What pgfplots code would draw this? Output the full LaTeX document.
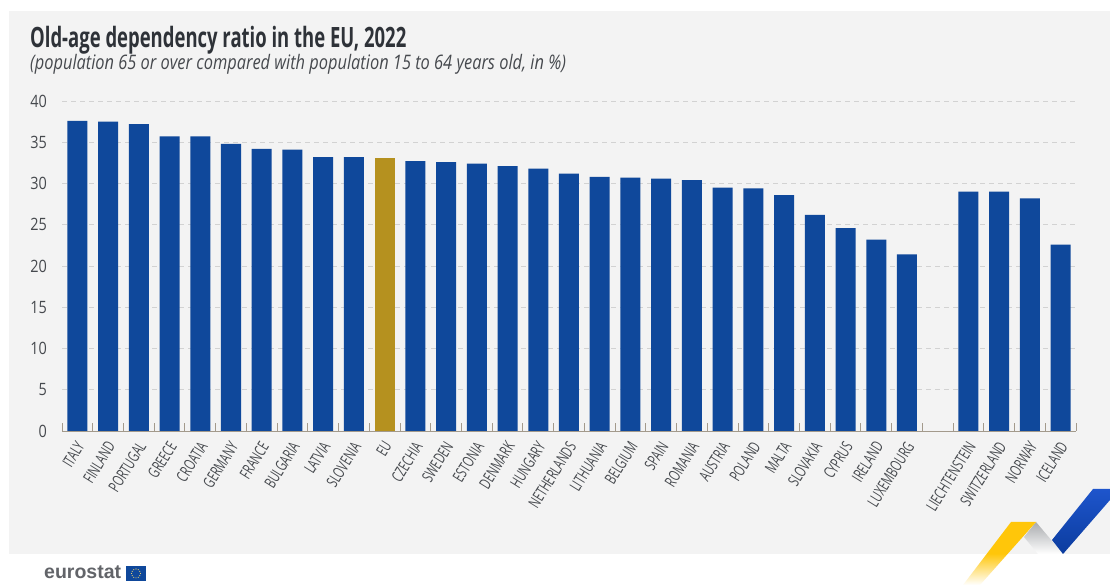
\documentclass[border=0pt]{standalone}
\usepackage{fontspec}
\usepackage{pgfplots}
\pgfplotsset{compat=1.18}
\usetikzlibrary{calc}
\setmainfont[FakeStretch=0.78]{Open Sans}
\newfontfamily\titlefont[FakeStretch=0.66]{Open Sans}
\newfontfamily\subtitlefont[FakeStretch=0.82]{Open Sans}
\newfontfamily\catfont[FakeStretch=0.67]{Open Sans}
\newfontfamily\numfont[FakeStretch=0.85]{Open Sans}
\newfontfamily\logofont{Liberation Sans}
\definecolor{panel}{HTML}{F3F3F3}
\definecolor{barblue}{HTML}{0F489B}
\definecolor{bargold}{HTML}{B5911F}
\definecolor{inktitle}{HTML}{2E3238}
\definecolor{inktext}{HTML}{46494E}
\definecolor{axisbrown}{HTML}{A39A8C}
\definecolor{gridgrey}{HTML}{D2D2D2}
\definecolor{ribbonyellow}{HTML}{FFC60A}
\definecolor{ribbongrey}{HTML}{A9ABAE}
\definecolor{ribbonblueA}{HTML}{0B3C9E}
\definecolor{ribbonblueB}{HTML}{1E55CC}
\begin{document}
\begin{tikzpicture}[x=1pt,y=1pt]
\useasboundingbox (0,0) rectangle (1110,585);
% panel behind the chart
\fill[panel] (9,31) rectangle (1110,574);
% headline
\node[anchor=base west,inner sep=0,text=inktitle,font=\fontsize{28}{30}\titlefont\bfseries] at (30,537) {Old-age dependency ratio in the EU, 2022};
\node[anchor=base west,inner sep=0,text=inktext,font=\fontsize{20}{22}\subtitlefont\itshape] at (30,515.5) {(population 65 or over compared with population 15 to 64 years old, in \%)};
\begin{axis}[
  at={(62pt,154pt)}, anchor=south west,
  scale only axis, width=1014pt, height=330pt,
  xmin=-0.5, xmax=32.5, ymin=0, ymax=40,
  ybar, bar width=20pt, bar shift=0pt,
  axis lines=left,
  axis line style={-,draw=axisbrown,line width=0.9pt},
  y axis line style={draw=none},
  ytick={0,5,...,40},
  ymajorgrids,
  grid style={gridgrey,dash pattern=on 5pt off 4pt,line width=0.7pt},
  major y tick style={draw=none},
  major x tick style={draw=none},
  xtick={0,...,32},
  minor xtick={-0.5,0.5,...,32.5},
  minor x tick style={draw=axisbrown,line width=0.9pt},
  minor tick length=8pt,
  tick align=inside,
  xticklabels={ITALY,FINLAND,PORTUGAL,GREECE,CROATIA,GERMANY,FRANCE,BULGARIA,LATVIA,SLOVENIA,EU,CZECHIA,SWEDEN,ESTONIA,DENMARK,HUNGARY,NETHERLANDS,LITHUANIA,BELGIUM,SPAIN,ROMANIA,AUSTRIA,POLAND,MALTA,SLOVAKIA,CYPRUS,IRELAND,LUXEMBOURG,,LIECHTENSTEIN,SWITZERLAND,NORWAY,ICELAND},
  x tick label style={xshift=-2pt,yshift=-9pt,rotate=58,anchor=north east,inner sep=0pt,text=inktext,font=\fontsize{16}{18}\catfont},
  y tick label style={text=inktext,font=\fontsize{17}{19}\numfont,inner sep=0pt,xshift=-15pt},
  /pgf/number format/assume math mode=true,
  clip=false,
]
\addplot[fill=barblue,draw=none] table[x=idx,y=val] {
idx val
0 37.6
1 37.5
2 37.2
3 35.7
4 35.7
5 34.8
6 34.2
7 34.1
8 33.2
9 33.2
11 32.7
12 32.6
13 32.4
14 32.1
15 31.8
16 31.2
17 30.8
18 30.7
19 30.6
20 30.4
21 29.5
22 29.4
23 28.6
24 26.2
25 24.6
26 23.2
27 21.4
29 29.0
30 29.0
31 28.2
32 22.6
};
\addplot[fill=bargold,draw=none] coordinates {(10,33.1)};
\end{axis}
% ribbon device in the lower right corner
\begin{scope}
\clip (0,0) rectangle (1110,585);
\fill[white] (9,0) rectangle (1110,31);
\shade[bottom color=white,top color=ribbongrey] (1024,48) -- (1036,63) -- (1063,31) -- (1038,31) -- cycle;
\shade[bottom color=white,top color=ribbonyellow,middle color=ribbonyellow] (1011,63) -- (1036,63) -- (980,0) -- (963,0) -- cycle;
\shade[bottom color=ribbonblueA,top color=ribbonblueB] (1052,45) -- (1063,31) -- (1110,85) -- (1110,96) -- (1093,96) -- cycle;
\end{scope}
% publisher mark
\node[anchor=base west,inner sep=0,text=inktext!85!white,font=\fontsize{19.5}{20}\logofont\bfseries] at (44,6) {eurostat};
\fill[barblue] (126,4) rectangle (146,19);
\foreach \a in {0,30,...,330}{\fill[ribbonyellow!60!white] ($(136,11.5)+(\a:4.4)$) circle (0.6);}
\end{tikzpicture}
\end{document}
